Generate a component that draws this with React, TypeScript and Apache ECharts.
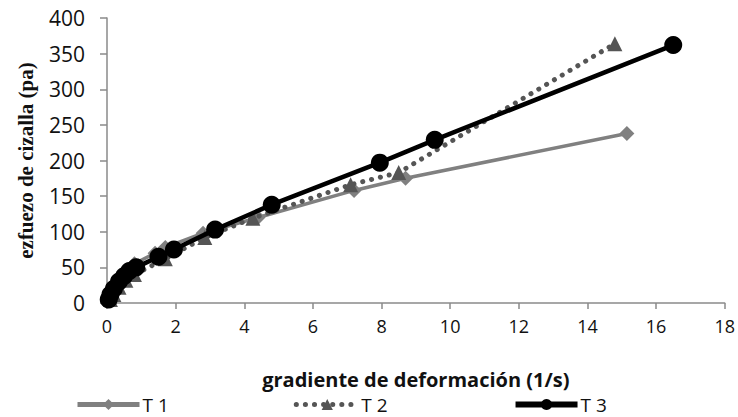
import React, { useEffect, useRef } from "react";
import * as echarts from "echarts";

const seriesNames = ["T 1", "T 2", "T 3"];
const t1: number[][] = [[0.05, 5], [0.15, 15], [0.3, 28], [0.5, 40], [0.8, 55], [1.4, 70], [1.7, 78], [2.8, 98], [4.4, 120], [7.2, 158], [8.7, 175], [15.15, 238]];
const t2: number[][] = [[0.1, 5], [0.2, 12], [0.35, 22], [0.55, 32], [0.8, 40], [1.7, 62], [2.85, 92], [4.25, 119], [7.1, 166], [8.5, 183], [14.8, 364]];
const t3: number[][] = [[0.05, 5], [0.1, 12], [0.2, 20], [0.35, 30], [0.5, 38], [0.65, 45], [0.85, 50], [1.5, 65], [1.95, 75], [3.15, 103], [4.8, 138], [7.95, 197], [9.55, 229], [16.5, 362]];
const xTitle = "gradiente de deformación (1/s)";
const yTitle = "ezfuezo de cizalla (pa)";

export default function App() {
  const ref = useRef<HTMLDivElement>(null);
  useEffect(() => {
    if (!ref.current) return;
    const chart = echarts.init(ref.current, null, { renderer: "svg" });
    const axisColor = "#8a8a8a";
    const c1 = "#808080";
    const c2 = "#555555";
    const c3 = "#000000";
    chart.setOption({
      animation: false,
      backgroundColor: "#ffffff",
      grid: { left: 107, right: 12, top: 18, bottom: 114, containLabel: false },
      xAxis: {
        type: "value",
        min: 0,
        max: 18,
        interval: 2,
        name: xTitle,
        nameLocation: "middle",
        nameGap: 66,
        nameTextStyle: { fontFamily: "Open Sans", fontWeight: "bold", fontSize: 20, color: "#111111" },
        axisLine: { show: true, lineStyle: { color: axisColor, width: 1.5 } },
        axisTick: { show: true, length: 6, lineStyle: { color: axisColor, width: 1.5 } },
        axisLabel: { fontFamily: "Open Sans", fontSize: 18, color: "#111111", margin: 14 },
        splitLine: { show: false },
      },
      yAxis: {
        type: "value",
        min: 0,
        max: 400,
        interval: 50,
        name: yTitle,
        nameLocation: "middle",
        nameGap: 71,
        nameRotate: 90,
        nameTextStyle: { fontFamily: "Liberation Serif", fontWeight: "bold", fontSize: 21, color: "#111111" },
        axisLine: { show: true, lineStyle: { color: axisColor, width: 1.5 } },
        axisTick: { show: true, inside: false, length: 7, lineStyle: { color: axisColor, width: 1.5 } },
        axisLabel: { fontFamily: "Open Sans", fontSize: 21, color: "#111111", margin: 22 },
        splitLine: { show: false },
      },
      legend: {
        bottom: 1,
        left: 70,
        padding: [2, 5, 2, 5],
        itemWidth: 62,
        itemHeight: 14,
        itemGap: 125,
        textStyle: { fontFamily: "Open Sans", fontSize: 19, color: "#111111", padding: [0, 0, 0, -2] },
        data: [
          { name: seriesNames[0], lineStyle: { width: 5, color: c1 } },
          { name: seriesNames[1], lineStyle: { width: 5, color: c2, type: [0.1, 9], cap: "round" } },
          { name: seriesNames[2], lineStyle: { width: 6, color: c3 } },
        ],
      },
      series: [
        {
          name: seriesNames[0],
          type: "line",
          data: t1,
          symbol: "diamond",
          symbolSize: 15,
          lineStyle: { color: c1, width: 3.5 },
          itemStyle: { color: c1 },
          z: 2,
        },
        {
          name: seriesNames[1],
          type: "line",
          data: t2,
          symbol: "triangle",
          symbolSize: 15,
          lineStyle: { color: c2, width: 5, type: [0.1, 9], cap: "round" },
          itemStyle: { color: c2 },
          z: 3,
        },
        {
          name: seriesNames[2],
          type: "line",
          data: t3,
          symbol: "circle",
          symbolSize: 18,
          lineStyle: { color: c3, width: 4.5 },
          itemStyle: { color: c3 },
          z: 4,
        },
      ],
    });
    return () => chart.dispose();
  }, []);
  return <div ref={ref} style={{ width: 738, height: 417, position: "absolute", left: 0, top: 0 }} />;
}
